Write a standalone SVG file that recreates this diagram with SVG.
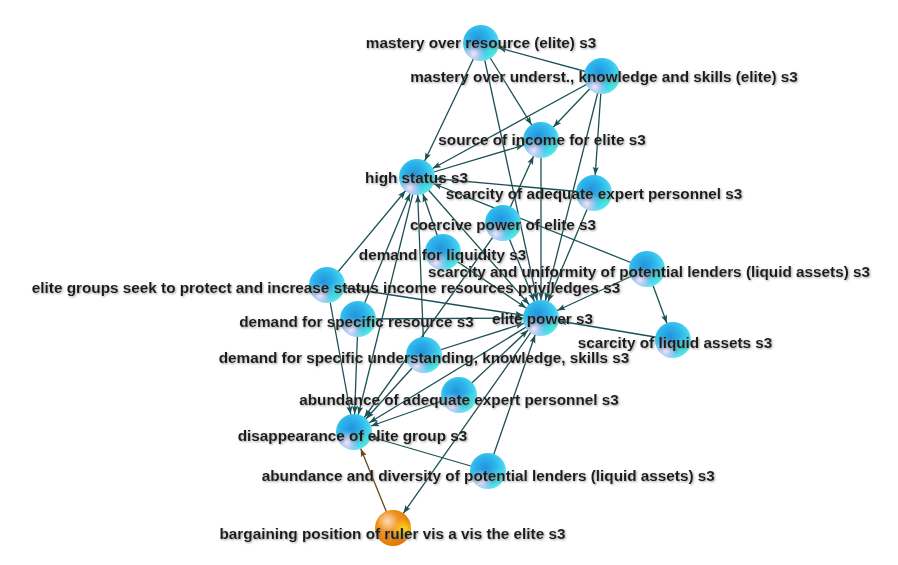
<svg xmlns="http://www.w3.org/2000/svg" width="898" height="565" viewBox="0 0 898 565">
<defs>
<style>
.c{stroke:#1b5155;stroke-width:1.3;fill:none;marker-end:url(#a)}
.b{stroke:#6b4618;stroke-width:1.3;fill:none;marker-end:url(#ab)}
.t{font-family:"Liberation Sans",Arial,sans-serif;font-weight:bold;font-size:15.3px;fill:#1e1e1e;text-anchor:middle;filter:url(#sh)}
.s{fill:url(#gb)}
.h{fill:url(#gh)}
.k{fill:url(#gk)}
.o{fill:url(#go)}
.oh{fill:url(#goh)}
.oy{fill:url(#goy)}
</style>
<filter id="sh" x="-5%" y="-40%" width="110%" height="180%">
<feDropShadow dx="1" dy="1" stdDeviation="0.8" flood-color="#7a7a7a" flood-opacity="0.7"/>
</filter>
<marker id="a" markerUnits="userSpaceOnUse" markerWidth="60" markerHeight="60" viewBox="-30 -30 60 60" refX="0" refY="0" orient="auto">
<path d="M-26,-3 L-18,0 L-26,3 L-24.5,0 z" fill="#1b5155"/>
</marker>
<marker id="ab" markerUnits="userSpaceOnUse" markerWidth="60" markerHeight="60" viewBox="-30 -30 60 60" refX="0" refY="0" orient="auto">
<path d="M-26,-3 L-18,0 L-26,3 L-24.5,0 z" fill="#6b4618"/>
</marker>
<radialGradient id="gb" cx="0.42" cy="0.4" r="0.62">
<stop offset="0" stop-color="#2394de"/>
<stop offset="0.45" stop-color="#2cb2ea"/>
<stop offset="0.8" stop-color="#44d2f0"/>
<stop offset="1" stop-color="#6ee6f2"/>
</radialGradient>
<radialGradient id="gh" cx="0.3" cy="0.8" r="0.34">
<stop offset="0" stop-color="#f6e4f8" stop-opacity="1"/>
<stop offset="0.5" stop-color="#e0c8f0" stop-opacity="0.6"/>
<stop offset="1" stop-color="#d0c0f0" stop-opacity="0"/>
</radialGradient>
<radialGradient id="gk" cx="0.8" cy="0.72" r="0.32">
<stop offset="0" stop-color="#3fe6d6" stop-opacity="0.8"/>
<stop offset="1" stop-color="#3fe6d6" stop-opacity="0"/>
</radialGradient>
<radialGradient id="go" cx="0.42" cy="0.4" r="0.62">
<stop offset="0" stop-color="#f0a448"/>
<stop offset="0.6" stop-color="#f08c14"/>
<stop offset="1" stop-color="#e27406"/>
</radialGradient>
<radialGradient id="goh" cx="0.34" cy="0.3" r="0.3">
<stop offset="0" stop-color="#fbdcb8" stop-opacity="0.95"/>
<stop offset="1" stop-color="#fbdcb8" stop-opacity="0"/>
</radialGradient>
<radialGradient id="goy" cx="0.8" cy="0.55" r="0.32">
<stop offset="0" stop-color="#ffe418" stop-opacity="0.95"/>
<stop offset="1" stop-color="#ffe418" stop-opacity="0"/>
</radialGradient>
</defs>
<rect width="898" height="565" fill="#ffffff"/>
<g id="connectors">
<line class="c" x1="602" y1="76" x2="481" y2="43"/>
<line class="c" x1="481" y1="43" x2="417" y2="177"/>
<line class="c" x1="481" y1="43" x2="541" y2="318"/>
<line class="c" x1="481" y1="43" x2="541" y2="140"/>
<line class="c" x1="602" y1="76" x2="541" y2="140"/>
<line class="c" x1="602" y1="76" x2="417" y2="177"/>
<line class="c" x1="602" y1="76" x2="594" y2="193"/>
<line class="c" x1="602" y1="76" x2="541" y2="318"/>
<line class="c" x1="417" y1="177" x2="541" y2="140"/>
<line class="c" x1="541" y1="140" x2="541" y2="318"/>
<line class="c" x1="503" y1="223" x2="541" y2="140"/>
<line class="c" x1="594" y1="193" x2="417" y2="177"/>
<line class="c" x1="594" y1="193" x2="541" y2="318"/>
<line class="c" x1="647" y1="269" x2="417" y2="177"/>
<line class="c" x1="647" y1="269" x2="541" y2="318"/>
<line class="c" x1="647" y1="269" x2="673" y2="340"/>
<line class="c" x1="673" y1="340" x2="541" y2="318"/>
<line class="c" x1="327" y1="285" x2="417" y2="177"/>
<line class="c" x1="327" y1="285" x2="541" y2="318"/>
<line class="c" x1="327" y1="285" x2="354" y2="432"/>
<line class="c" x1="358" y1="319" x2="417" y2="177"/>
<line class="c" x1="358" y1="319" x2="541" y2="318"/>
<line class="c" x1="358" y1="319" x2="354" y2="432"/>
<line class="c" x1="424" y1="355" x2="417" y2="177"/>
<line class="c" x1="424" y1="355" x2="541" y2="318"/>
<line class="c" x1="424" y1="355" x2="354" y2="432"/>
<line class="c" x1="443" y1="252" x2="417" y2="177"/>
<line class="c" x1="443" y1="252" x2="541" y2="318"/>
<line class="c" x1="417" y1="177" x2="541" y2="318"/>
<line class="c" x1="503" y1="223" x2="541" y2="318"/>
<line class="c" x1="417" y1="177" x2="354" y2="432"/>
<line class="c" x1="541" y1="318" x2="354" y2="432"/>
<line class="c" x1="503" y1="223" x2="354" y2="432"/>
<line class="c" x1="459" y1="395" x2="541" y2="318"/>
<line class="c" x1="459" y1="395" x2="354" y2="432"/>
<line class="c" x1="488" y1="471" x2="541" y2="318"/>
<line class="c" x1="488" y1="471" x2="354" y2="432"/>
<line class="c" x1="541" y1="318" x2="393" y2="528"/>
<line class="b" x1="393" y1="528" x2="354" y2="432"/>
</g>
<g id="n-mr"><circle class="s" cx="481" cy="43" r="18"/><circle class="k" cx="481" cy="43" r="18"/><circle class="h" cx="481" cy="43" r="18"/><text class="t" x="481" y="47.5">mastery over resource (elite) s3</text></g>
<g id="n-mu"><circle class="s" cx="602" cy="76" r="18"/><circle class="k" cx="602" cy="76" r="18"/><circle class="h" cx="602" cy="76" r="18"/><text class="t" x="604" y="81.5">mastery over underst., knowledge and skills (elite) s3</text></g>
<g id="n-si"><circle class="s" cx="541" cy="140" r="18"/><circle class="k" cx="541" cy="140" r="18"/><circle class="h" cx="541" cy="140" r="18"/><text class="t" x="542" y="144.5">source of income for elite s3</text></g>
<g id="n-hs"><circle class="s" cx="417" cy="177" r="18"/><circle class="k" cx="417" cy="177" r="18"/><circle class="h" cx="417" cy="177" r="18"/><text class="t" x="416.5" y="183">high status s3</text></g>
<g id="n-se"><circle class="s" cx="594" cy="193" r="18"/><circle class="k" cx="594" cy="193" r="18"/><circle class="h" cx="594" cy="193" r="18"/><text class="t" x="594" y="198.5">scarcity of adequate expert personnel s3</text></g>
<g id="n-cp"><circle class="s" cx="503" cy="223" r="18"/><circle class="k" cx="503" cy="223" r="18"/><circle class="h" cx="503" cy="223" r="18"/><text class="t" x="503" y="229.5">coercive power of elite s3</text></g>
<g id="n-dl"><circle class="s" cx="443" cy="252" r="18"/><circle class="k" cx="443" cy="252" r="18"/><circle class="h" cx="443" cy="252" r="18"/><text class="t" x="442.5" y="259.5">demand for liquidity s3</text></g>
<g id="n-su"><circle class="s" cx="647" cy="269" r="18"/><circle class="k" cx="647" cy="269" r="18"/><circle class="h" cx="647" cy="269" r="18"/><text class="t" x="649" y="276.5">scarcity and uniformity of potential lenders (liquid assets) s3</text></g>
<g id="n-eg"><circle class="s" cx="327" cy="285" r="18"/><circle class="k" cx="327" cy="285" r="18"/><circle class="h" cx="327" cy="285" r="18"/><text class="t" x="326" y="293">elite groups seek to protect and increase status income resources priviledges s3</text></g>
<g id="n-ep"><circle class="s" cx="541" cy="318" r="18"/><circle class="k" cx="541" cy="318" r="18"/><circle class="h" cx="541" cy="318" r="18"/><text class="t" x="542.5" y="324">elite power s3</text></g>
<g id="n-dr"><circle class="s" cx="358" cy="319" r="18"/><circle class="k" cx="358" cy="319" r="18"/><circle class="h" cx="358" cy="319" r="18"/><text class="t" x="356.5" y="326.5">demand for specific resource s3</text></g>
<g id="n-sl"><circle class="s" cx="673" cy="340" r="18"/><circle class="k" cx="673" cy="340" r="18"/><circle class="h" cx="673" cy="340" r="18"/><text class="t" x="675" y="348">scarcity of liquid assets s3</text></g>
<g id="n-du"><circle class="s" cx="424" cy="355" r="18"/><circle class="k" cx="424" cy="355" r="18"/><circle class="h" cx="424" cy="355" r="18"/><text class="t" x="424" y="362.5">demand for specific understanding, knowledge, skills s3</text></g>
<g id="n-aa"><circle class="s" cx="459" cy="395" r="18"/><circle class="k" cx="459" cy="395" r="18"/><circle class="h" cx="459" cy="395" r="18"/><text class="t" x="459" y="404.5">abundance of adequate expert personnel s3</text></g>
<g id="n-dis"><circle class="s" cx="354" cy="432" r="18"/><circle class="k" cx="354" cy="432" r="18"/><circle class="h" cx="354" cy="432" r="18"/><text class="t" x="352.5" y="441">disappearance of elite group s3</text></g>
<g id="n-ad"><circle class="s" cx="488" cy="471" r="18"/><circle class="k" cx="488" cy="471" r="18"/><circle class="h" cx="488" cy="471" r="18"/><text class="t" x="488.3" y="481">abundance and diversity of potential lenders (liquid assets) s3</text></g>
<g id="n-bp"><circle class="o" cx="393" cy="528" r="18"/><circle class="oy" cx="393" cy="528" r="18"/><circle class="oh" cx="393" cy="528" r="18"/><text class="t" x="392.5" y="539">bargaining position of ruler vis a vis the elite s3</text></g>
</svg>
